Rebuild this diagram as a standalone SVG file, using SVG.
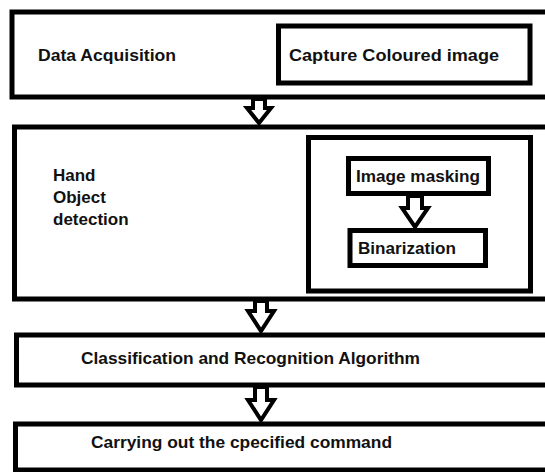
<svg xmlns="http://www.w3.org/2000/svg" width="545" height="472" viewBox="0 0 545 472">
<style>
.box{fill:none;stroke:#000;stroke-width:5}
.t{font-family:"Liberation Sans",Arial,sans-serif;font-weight:bold;font-size:17px;fill:#111}
.arr{fill:#fff;stroke:#000;stroke-width:4;stroke-linejoin:miter}
</style>
<rect width="545" height="472" fill="#fff"/>
<g id="data-acquisition">
<rect class="box" x="12" y="12" width="560" height="85"/>
<text class="t" x="38" y="61" textLength="138" lengthAdjust="spacingAndGlyphs">Data Acquisition</text>
</g>
<g id="capture">
<rect class="box" x="278.5" y="26" width="251.5" height="57"/>
<text class="t" x="289" y="61" textLength="210" lengthAdjust="spacingAndGlyphs">Capture Coloured image</text>
</g>
<g id="hand-detection">
<rect class="box" x="14.5" y="127" width="560" height="172"/>
<text class="t" x="53" y="181">Hand</text>
<text class="t" x="53" y="202.5">Object</text>
<text class="t" x="53" y="224.5">detection</text>
</g>
<g id="processing">
<rect class="box" x="308.5" y="137.5" width="222" height="153.5"/>
</g>
<g id="image-masking">
<rect class="box" x="348.5" y="158.5" width="140" height="35"/>
<text class="t" x="356" y="181.5" textLength="124" lengthAdjust="spacingAndGlyphs">Image masking</text>
</g>
<g id="binarization">
<rect class="box" x="350" y="230.5" width="135.5" height="35"/>
<text class="t" x="358" y="254" textLength="98" lengthAdjust="spacingAndGlyphs">Binarization</text>
</g>
<g id="classification">
<rect class="box" x="16.5" y="335" width="560" height="50"/>
<text class="t" x="81" y="364" textLength="339" lengthAdjust="spacingAndGlyphs">Classification and Recognition Algorithm</text>
</g>
<g id="command">
<rect class="box" x="15.5" y="424" width="560" height="46"/>
<text class="t" x="91" y="447.5" textLength="301" lengthAdjust="spacingAndGlyphs">Carrying out the cpecified command</text>
</g>
<g id="connectors">
<path class="arr" d="M253,99 V108 H247 L259,123 L271,108 H265 V99 Z"/>
<path class="arr" d="M255,301 V311 H248 L261,331 L274,311 H267 V301 Z"/>
<path class="arr" d="M255,387 V400 H248 L261,420 L274,400 H267 V387 Z"/>
<path class="arr" d="M408,196 V208 H402 L415,227 L428,208 H422 V196 Z"/>
</g>
</svg>
